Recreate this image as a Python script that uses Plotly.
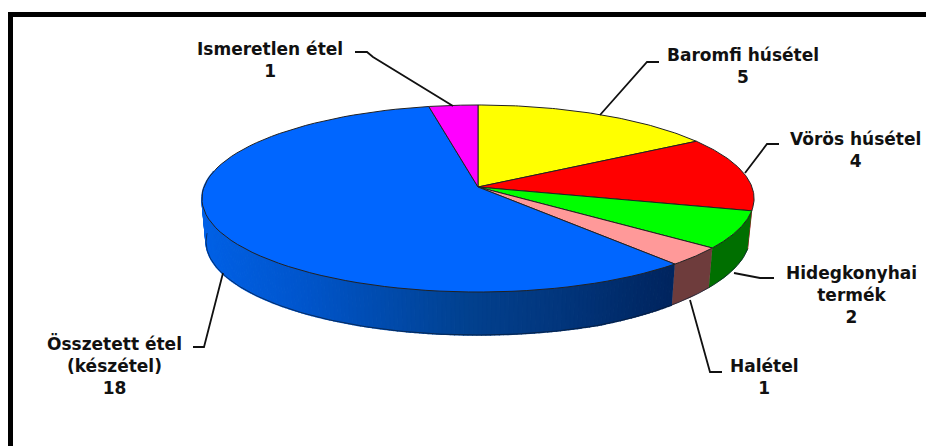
import numpy as np
import plotly.graph_objects as go

# --- data ---
categories = ["Baromfi húsétel", "Vörös húsétel", "Hidegkonyhai termék", "Halétel",
              "Összetett étel (készétel)", "Ismeretlen étel"]
values = [5, 4, 2, 1, 18, 1]
top_colors = ["#ffff00", "#ff0000", "#00ff00", "#ff9999", "#0066ff", "#ff00ff"]
side_colors = ["#808000", "#8b0000", "#006f00", "#6e3c3c", None, "#800080"]

# --- view geometry (pixels) ---
W, H = 934, 446
OFFSET = 8  # page margin around the plot
CX, CY, R, B, K, DEPTH = 478, 187, 274, 92.1, 0.123, 43
FONT = dict(family="DejaVu Sans, sans-serif", size=17, color="#111111")


def project(deg):
    t = np.radians(deg)
    u, v = np.sin(t), np.cos(t)
    p = 1 / (1 + K * v)
    return CX + R * u * p, CY - B * v * p


def project_bottom(deg):
    x, y = project(deg)
    u = np.sin(np.radians(deg))
    return CX + (x - CX) * 0.985, y + DEPTH - 5 * np.clip((u - 0.4) / 0.6, 0, 1)


def blue_shade(x):
    xs = [203, 300, 467, 560, 672]
    r = [0, 0, 2, 2, 0]
    g = [97, 86, 65, 54, 37]
    b = [230, 205, 143, 125, 95]
    return "rgb(%d,%d,%d)" % (np.interp(x, xs, r), np.interp(x, xs, g), np.interp(x, xs, b))


fig = go.Figure()
total = sum(values)
edges = np.cumsum([0] + values) / total * 360


def add_poly(xs, ys, fill, line=None, width=0.6):
    fig.add_trace(go.Scatter(x=xs, y=ys, mode="lines", fill="toself", fillcolor=fill,
                             line=dict(color=line or fill, width=width),
                             hoverinfo="skip", showlegend=False))


# side wall, back to front
for i, val in enumerate(values):
    a0, a1 = max(edges[i], 104), min(edges[i + 1], 280)
    if a1 <= a0:
        continue
    if side_colors[i] is None:
        steps = np.linspace(a0, a1, 170)
        for s0, s1 in zip(steps[:-1], steps[1:]):
            x0, y0 = project(s0)
            x1, y1 = project(s1)
            bx0, by0 = project_bottom(s0)
            bx1, by1 = project_bottom(s1)
            add_poly([x0, x1, bx1, bx0], [y0, y1, by1, by0], blue_shade((x0 + x1) / 2), width=1.5)
    else:
        th = np.linspace(a0, a1, 30)
        x, y = project(th)
        bx, by = project_bottom(th)
        add_poly(np.r_[x, bx[::-1]], np.r_[y, by[::-1]], side_colors[i], width=0.8)

# wall silhouette
th = np.linspace(edges[2], 268, 200)
bx, by = project_bottom(th)
fig.add_trace(go.Scatter(x=bx, y=by, mode="lines", line=dict(color="#0a1a30", width=0.7),
                         hoverinfo="skip", showlegend=False))

# top face
for i, val in enumerate(values):
    th = np.linspace(edges[i], edges[i + 1], 80)
    x, y = project(th)
    add_poly(np.r_[CX, x, CX], np.r_[CY, y, CY], top_colors[i], line="#222222", width=1)

# frame
shapes = [
    dict(type="rect", xref="x", yref="y", x0=8, x1=W, y0=12, y1=17, fillcolor="black", line_width=0),
    dict(type="rect", xref="x", yref="y", x0=8, x1=13, y0=12, y1=H, fillcolor="black", line_width=0),
]

# leader lines
leaders = [
    [(355, 52), (367, 52), (373, 57), (453, 106)],
    [(659, 62), (647, 62), (600, 115)],
    [(779, 144), (767, 144), (745, 173)],
    [(774, 278), (760, 278), (734, 273)],
    [(722, 372), (710, 372), (690, 300)],
    [(193, 347), (204, 347), (223, 273)],
]
for pts in leaders:
    fig.add_trace(go.Scatter(x=[p[0] for p in pts], y=[p[1] for p in pts], mode="lines",
                             line=dict(color="#111111", width=1.8), hoverinfo="skip", showlegend=False))

# labels
labels = [
    ("Baromfi húsétel", 5, 743, 66),
    ("Vörös húsétel", 4, 855, 150),
    ("Hidegkonyhai<br>termék", 2, 851, 295),
    ("Halétel", 1, 764, 377),
    ("Összetett étel<br>(készétel)", 18, 114, 365),
    ("Ismeretlen étel", 1, 270, 60),
]
annotations = [dict(x=x, y=y, xref="x", yref="y", text="<b>%s<br>%d</b>" % (t, v), showarrow=False,
                    font=FONT, align="center", xanchor="center", yanchor="middle")
               for t, v, x, y in labels]

fig.update_layout(width=W - OFFSET, height=H - OFFSET, margin=dict(l=0, r=0, t=0, b=0), autosize=False,
                  paper_bgcolor="white", plot_bgcolor="white", showlegend=False,
                  shapes=shapes, annotations=annotations,
                  xaxis=dict(range=[OFFSET, W], visible=False, fixedrange=True),
                  yaxis=dict(range=[H, OFFSET], visible=False, fixedrange=True))
fig.write_html("out.html", config=dict(displayModeBar=False))
